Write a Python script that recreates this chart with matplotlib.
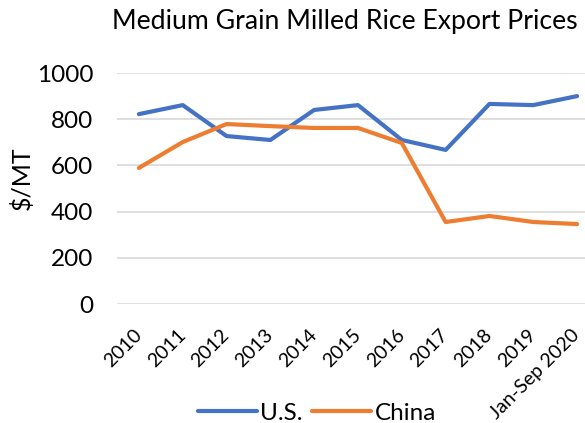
import matplotlib
matplotlib.use("Agg")
import matplotlib.pyplot as plt
import matplotlib.transforms as mtransforms

categories = ["2010", "2011", "2012", "2013", "2014", "2015", "2016", "2017", "2018", "2019", "Jan-Sep 2020"]
us = [822, 861, 727, 710, 840, 861, 710, 667, 866, 861, 900]
china = [589, 701, 779, 770, 762, 762, 697, 355, 381, 355, 346]
yticks = [0, 200, 400, 600, 800, 1000]

plt.rcParams['font.family'] = ['Lato', 'DejaVu Sans']

fig = plt.figure(figsize=(5.85, 4.23), dpi=100)
ax = fig.add_axes([117/585, 1 - 304/423, (599 - 117)/585, (304 - 73)/423])

x = list(range(len(categories)))
ax.plot(x, us, color="#4472C4", lw=3.0, label="U.S.", solid_joinstyle="round", solid_capstyle="round")
ax.plot(x, china, color="#ED7D31", lw=3.0, label="China", solid_joinstyle="round", solid_capstyle="round")

ax.set_xlim(-0.5, len(categories) - 0.5)
ax.set_ylim(0, 1000)
ax.set_yticks(yticks)
ax.set_yticklabels([str(v) for v in yticks], fontsize=17.5)
ax.yaxis.grid(True, color="#D9D9D9", lw=1.2)
ax.set_axisbelow(True)
for s in ax.spines.values():
    s.set_visible(False)
ax.tick_params(axis="both", length=0)
ax.tick_params(axis="y", pad=17)
ax.set_xticks(x)
ax.set_xticklabels(categories, fontsize=14, rotation=45, ha="right", va="top", rotation_mode="anchor")
ax.tick_params(axis="x", pad=16)
offset = mtransforms.ScaledTranslation(-6/100, 0, fig.dpi_scale_trans)
for lbl in ax.get_xticklabels():
    lbl.set_transform(lbl.get_transform() + offset)

fig.text(22/585, 1 - 178/423, "$/MT", fontsize=18, rotation=90, ha="center", va="center")

fig.text(345/585, 1 - 22/423, "Medium Grain Milled Rice Export Prices", fontsize=19.2, ha="center", va="center")

leg = fig.legend(loc="center", bbox_to_anchor=(317/585, 1 - 413/423), ncol=2, frameon=False,
                 fontsize=17.5, handlelength=2.4, columnspacing=0.4, handletextpad=0.15)

fig.savefig("out.png", dpi=100)
